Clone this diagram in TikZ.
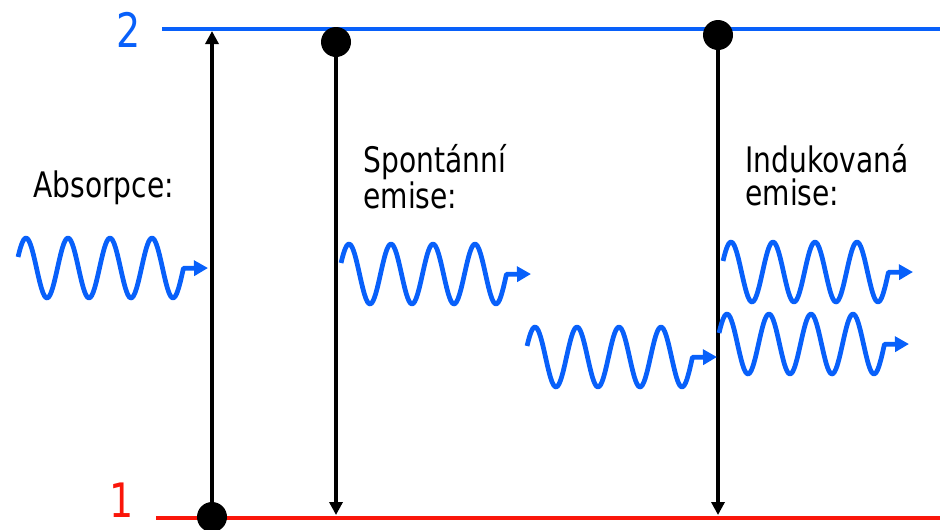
\documentclass[tikz,border=0pt]{standalone}
\usepackage{fontspec}
\setmainfont[FakeStretch=0.8]{DejaVu Sans}
\usepackage{tikz}
\usetikzlibrary{arrows.meta, positioning, calc}
\definecolor{LvlBlue}{RGB}{8, 96, 250}
\definecolor{LvlRed}{RGB}{250, 22, 10}

\begin{document}
\begin{tikzpicture}[
	lvlline/.style={line width=2.8pt},
	dot/.style={circle, fill=black, inner sep=0pt, minimum size=0.6cm},
	jump/.style={line width=2pt, -{Triangle[length=0.26cm, width=0.26cm]}},
	wave/.style={line width=2.7pt, LvlBlue, line join=round, -{Triangle[length=0.28cm, width=0.3cm]}},
	lbl/.style={font=\fontsize{20}{18.8}\selectfont, align=left, inner sep=0pt},
	num/.style={font=\fontsize{27}{27}\selectfont, inner sep=0pt},
	photon/.pic={\draw[wave] plot[domain=0.06:4, samples=120, smooth, variable=\t] ({0.84*\t-3.85}, {0.6*sin(360*\t)}) -- (0,0);}]
	\useasboundingbox (0,0) rectangle (18.8,-10.58);
	% energy levels
	\coordinate (top) at (3.24,-0.58);
	\coordinate (bot) at (3.12,-10.36);
	\draw[lvlline, LvlBlue] (top) -- (18.8,-0.58);
	\draw[lvlline, LvlRed] (bot) -- (18.8,-10.36);
	\node[num, text=LvlBlue] (n2) at (2.58,-0.60) {2};
	\node[num, text=LvlRed] (n1) at (2.44,-10.01) {1};
	% atoms
	\node[dot] (absdot) at (4.24,-10.34) {};
	\node[dot] (spdot) at (6.72,-0.84) {};
	\node[dot] (inddot) at (14.36,-0.70) {};
	\coordinate (absend) at (4.24,-0.62);
	\coordinate (spend) at (6.72,-10.30);
	\coordinate (indend) at (14.36,-10.30);
	\draw[jump] (absdot.center) -- (absend);
	\draw[jump] (spdot.center) -- (spend);
	\draw[jump] (inddot.center) -- (indend);
	% texts
	\node[lbl, anchor=base west] (abstxt) at (0.66,-3.94) {Absorpce:};
	\node[lbl, anchor=north west] (sptxt) at (7.26,-2.88) {Spontánní\\emise:};
	\node[lbl, anchor=north west] (indtxt) at (14.90,-2.88) {Indukovaná\\emise:};
	% photons
	\pic at (4.16,-5.36) {photon};
	\pic at (10.62,-5.48) {photon};
	\pic at (14.34,-7.14) {photon};
	\pic at (18.26,-5.44) {photon};
	\pic at (18.18,-6.88) {photon};
\end{tikzpicture}
\end{document}
